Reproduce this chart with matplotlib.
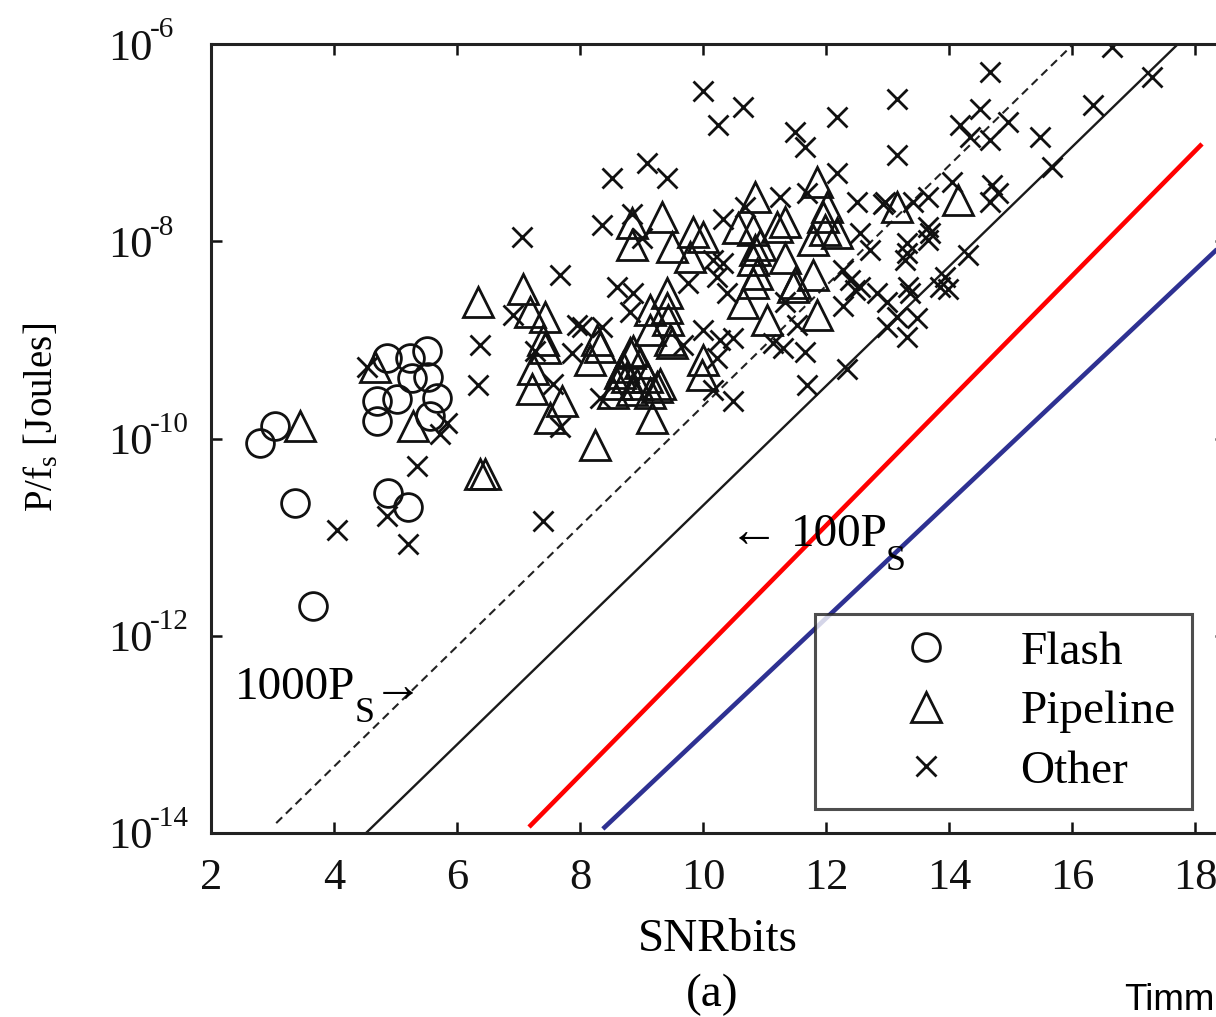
import matplotlib
matplotlib.use('Agg')
import matplotlib.pyplot as plt
from matplotlib.lines import Line2D
from matplotlib.transforms import blended_transform_factory

plt.rcParams['font.family'] = ['Liberation Serif', 'DejaVu Serif']
plt.rcParams['mathtext.fontset'] = 'custom'
plt.rcParams['mathtext.rm'] = 'Liberation Serif'
plt.rcParams['mathtext.it'] = 'Liberation Serif:italic'
plt.rcParams['mathtext.bf'] = 'Liberation Serif:bold'

# ---------------- data ----------------
flash_bits = [2.80, 3.04, 3.37, 3.66, 4.70, 4.70, 4.86, 5.02, 5.24, 5.27, 5.51, 5.53, 5.67, 5.56, 4.88, 5.20]
flash_energy = [9.1e-11, 1.35e-10, 2.2e-11, 2.0e-12, 2.4e-10, 1.5e-10, 6.5e-10, 2.5e-10, 6.6e-10, 4.1e-10,
                7.8e-10, 4.2e-10, 2.6e-10, 1.7e-10, 2.8e-11, 2.0e-11]

pipeline_bits = [4.67, 3.45, 5.28, 6.37, 6.46, 6.34, 7.07, 7.19, 7.43, 7.40, 7.43, 7.24, 7.22, 7.71, 7.51,
                 8.28, 8.16, 8.86, 9.14, 9.14, 9.46, 8.60, 8.76, 8.93, 9.09, 9.30, 8.70, 8.98, 8.54, 8.85,
                 9.14, 9.17, 8.24, 9.33, 8.85, 8.85, 9.50, 9.84, 9.79, 10.85, 10.57, 10.81, 10.93, 10.81,
                 10.88, 9.41, 9.41, 9.43, 11.20, 10.65, 11.04, 10.81, 9.50, 8.33, 10.00, 9.98, 9.25, 8.81,
                 8.65, 11.85, 11.33, 12.02, 11.95, 11.98, 11.79, 12.18, 13.15, 11.33, 10.85, 11.79, 11.50,
                 10.00, 11.85, 11.46, 14.15]
pipeline_energy = [5.3e-10, 1.35e-10, 1.35e-10, 4.4e-11, 4.4e-11, 2.4e-9, 3.3e-9, 1.9e-9, 1.69e-9, 9.9e-10,
                   8.2e-10, 5.1e-10, 3.2e-10, 2.4e-10, 1.6e-10, 9.9e-10, 6.2e-10, 7.8e-10, 2.0e-9, 1.25e-9,
                   9.9e-10, 3.6e-10, 4.2e-10, 3.6e-10, 4.2e-10, 3.6e-10, 5.3e-10, 5.8e-10, 2.9e-10, 3.1e-10,
                   2.9e-10, 1.6e-10, 8.5e-11, 1.75e-8, 1.52e-8, 9.1e-9, 8.7e-9, 1.23e-8, 6.9e-9, 2.8e-8,
                   1.36e-8, 1.29e-8, 9.1e-9, 6.4e-9, 4.7e-9, 3.0e-9, 2.1e-9, 1.58e-9, 1.39e-8, 2.35e-9,
                   1.58e-9, 3.75e-9, 9.4e-10, 8.4e-10, 6.2e-10, 4.4e-10, 3.3e-10, 7.3e-10, 4.6e-10, 4.0e-8,
                   1.56e-8, 2.2e-8, 1.75e-8, 1.29e-8, 1.02e-8, 1.2e-8, 2.2e-8, 6.7e-9, 8.1e-9, 4.5e-9,
                   3.75e-9, 1.1e-8, 1.77e-9, 3.4e-9, 2.6e-8]

other_bits = [4.54, 5.84, 5.72, 5.35, 4.05, 4.86, 5.20, 6.37, 6.34, 7.67, 6.91, 7.87, 7.95, 7.56, 7.27,
              7.67, 7.40, 9.09, 8.52, 9.41, 7.06, 8.36, 8.85, 9.01, 8.60, 8.86, 8.03, 8.36, 8.81, 8.33,
              10.00, 10.65, 10.24, 10.33, 10.68, 11.25, 9.76, 10.16, 10.33, 10.23, 10.39, 10.00, 10.28,
              10.49, 10.23, 10.49, 10.16, 11.14, 9.67, 11.50, 11.66, 12.18, 13.15, 13.15, 12.18, 11.69,
              12.50, 12.96, 12.55, 12.72, 12.28, 12.39, 12.47, 11.33, 12.28, 12.55, 12.83, 12.99, 11.53,
              11.30, 11.66, 11.69, 12.34, 13.15, 14.67, 14.50, 14.18, 14.96, 14.34, 14.67, 15.48, 15.67,
              14.05, 14.70, 14.80, 14.67, 13.66, 13.41, 13.66, 13.66, 13.69, 13.32, 13.32, 13.28, 14.31,
              13.93, 13.85, 13.98, 13.33, 12.93, 13.37, 13.48, 13.32, 12.99, 16.65, 17.30, 16.33]
other_energy = [5.3e-10, 1.42e-10, 1.12e-10, 5.3e-11, 1.19e-11, 1.65e-11, 8.6e-12, 8.8e-10, 3.45e-10, 4.5e-9,
                1.77e-9, 7.3e-10, 1.4e-9, 3.6e-10, 7.8e-10, 1.3e-10, 1.47e-11, 6.2e-8, 4.4e-8, 4.4e-8,
                1.1e-8, 1.45e-8, 1.9e-8, 1.07e-8, 3.4e-9, 3.0e-9, 1.34e-9, 1.34e-9, 1.9e-9, 2.6e-10,
                3.3e-7, 2.3e-7, 1.5e-7, 1.7e-8, 2.2e-8, 2.8e-8, 3.75e-9, 6.4e-9, 6.0e-9, 4.3e-9, 3.0e-9,
                1.25e-9, 9.9e-10, 1.04e-9, 6.6e-10, 2.4e-10, 3.1e-10, 9.4e-10, 8.8e-10, 1.28e-7, 9.0e-8,
                1.8e-7, 2.8e-7, 7.5e-8, 4.9e-8, 3.1e-8, 2.5e-8, 2.5e-8, 1.2e-8, 8.1e-9, 5.1e-9, 4.0e-9,
                3.2e-9, 2.4e-9, 2.2e-9, 3.4e-9, 3.0e-9, 2.4e-9, 1.4e-9, 8.2e-10, 7.5e-10, 3.45e-10,
                5.1e-10, 1.69e-9, 5.2e-7, 2.2e-7, 1.5e-7, 1.6e-7, 1.14e-7, 1.06e-7, 1.14e-7, 5.6e-8,
                4.0e-8, 3.7e-8, 3.1e-8, 2.5e-8, 2.8e-8, 2.5e-8, 1.39e-8, 1.02e-8, 1.2e-8, 9.5e-9, 7.6e-9,
                6.4e-9, 7.2e-9, 4.3e-9, 3.4e-9, 3.3e-9, 3.4e-9, 2.4e-8, 3.0e-9, 1.65e-9, 1.06e-9, 1.34e-9,
                9.3e-7, 4.6e-7, 2.4e-7]

# bound lines (endpoints)
ps1000_bits = [3.06, 16.02]
ps1000_energy = [1.26e-14, 1.0e-6]
ps100_bits = [4.52, 17.72]
ps100_energy = [1.0e-14, 1.0e-6]
red_bits = [7.17, 18.11]
red_energy = [1.15e-14, 9.7e-8]
blue_bits = [8.37, 18.47]
blue_energy = [1.1e-14, 9.7e-9]

x_ticks = [2, 4, 6, 8, 10, 12, 14, 16, 18]
y_ticks = [1e-14, 1e-12, 1e-10, 1e-8, 1e-6]
y_tick_exponents = ['-14', '-12', '-10', '-8', '-6']
legend_labels = ['Flash', 'Pipeline', 'Other']

# ---------------- figure ----------------
W, H = 1216, 1017
fig = plt.figure(figsize=(W / 100, H / 100), dpi=100)
ax = fig.add_axes([211 / W, 184 / H, (1226 - 211) / W, (833 - 44) / H])
ax.set_yscale('log')
ax.set_xlim(2, 18.5)
ax.set_ylim(1e-14, 1e-6)

FS_TICK = 32
FS = 34
mew = 2.0
ink = '#111111'
ax.plot(ps1000_bits, ps1000_energy, color='#222222', lw=1.5, ls=(0, (4, 2.5)))
ax.plot(ps100_bits, ps100_energy, color='#1a1a1a', lw=1.7)
ax.plot(red_bits, red_energy, color='#ff0000', lw=3.3, solid_capstyle='butt')
ax.plot(blue_bits, blue_energy, color='#2e3192', lw=3.3, solid_capstyle='butt')

ax.plot(other_bits, other_energy, ls='none', marker='x', ms=15, mew=mew, color=ink)
ax.plot(pipeline_bits, pipeline_energy, ls='none', marker='^', ms=21, mew=mew, mfc='none', mec=ink)
ax.plot(flash_bits, flash_energy, ls='none', marker='o', ms=20, mew=mew, mfc='none', mec=ink)

ax.set_xticks(x_ticks)
ax.set_xticklabels([str(t) for t in x_ticks])
ax.set_yticks(y_ticks)
ax.set_yticklabels([])
ax.minorticks_off()
ax.tick_params(axis='both', which='major', direction='in', length=8, width=1.8,
               top=True, right=True, labelsize=FS_TICK, pad=18, colors='#111111')
for s in ax.spines.values():
    s.set_linewidth(2.2)
    s.set_color('#222222')

# y tick labels: "10" with raised exponent
ytrans = blended_transform_factory(fig.transFigure, ax.transData)
for t, ex in zip(y_ticks, y_tick_exponents):
    ax.text(108 / W, t, '10', transform=ytrans, fontsize=FS_TICK, ha='left', va='center_baseline',
            clip_on=False, color='#111111')
    ax.annotate(ex, xy=(150 / W, t), xycoords=ytrans, xytext=(0, 12), textcoords='offset points',
                fontsize=21, ha='left', va='center_baseline', annotation_clip=False, color='#111111')

# annotations
ax.text(2.39, 2.3e-13, '1000P', fontsize=FS, ha='left', va='baseline')
ax.annotate('S', xy=(2.39, 2.3e-13), xytext=(86, -17), textcoords='offset points',
            fontsize=26, ha='left', va='baseline')
ax.annotate('\u2192', xy=(2.39, 2.3e-13), xytext=(99, -2), textcoords='offset points',
            fontsize=36, ha='left', va='baseline')
ax.text(10.41, 8.1e-12, '\u2190', fontsize=36, ha='left', va='baseline')
ax.annotate('100P', xy=(10.41, 8.1e-12), xytext=(45, 0), textcoords='offset points',
            fontsize=FS, ha='left', va='baseline')
ax.annotate('S', xy=(10.41, 8.1e-12), xytext=(113, -17), textcoords='offset points',
            fontsize=26, ha='left', va='baseline')

# labels
fig.text(718 / W, 1 - 940 / H, 'SNRbits', fontsize=FS, ha='center', va='center')
fig.text(712 / W, 1 - 995 / H, '(a)', fontsize=FS, ha='center', va='center')
fig.text(42 / W, 1 - 417 / H, 'P/f$_\\mathregular{s}$ [Joules]', fontsize=28, rotation=90,
         ha='center', va='center')
fig.text(1124 / W, 1 - 1000 / H, 'Timm', fontsize=26.5, ha='left', va='center',
         family=['Liberation Sans', 'DejaVu Sans'])

handles = [Line2D([], [], ls='none', marker='o', ms=20, mew=mew, mfc='none', mec=ink),
           Line2D([], [], ls='none', marker='^', ms=21, mew=mew, mfc='none', mec=ink),
           Line2D([], [], ls='none', marker='x', ms=15, mew=mew, color=ink)]
leg = ax.legend(handles, legend_labels, loc='upper left',
                bbox_to_anchor=(815 / W, 1 - 614 / H), bbox_transform=fig.transFigure,
                fontsize=FS, frameon=True, fancybox=False, borderpad=0.35, labelspacing=0.35,
                handlelength=4.0, handletextpad=0.0, borderaxespad=0)
leg.get_frame().set_edgecolor('#222222')
leg.get_frame().set_linewidth(2.2)

fig.savefig('out.png', dpi=100)
